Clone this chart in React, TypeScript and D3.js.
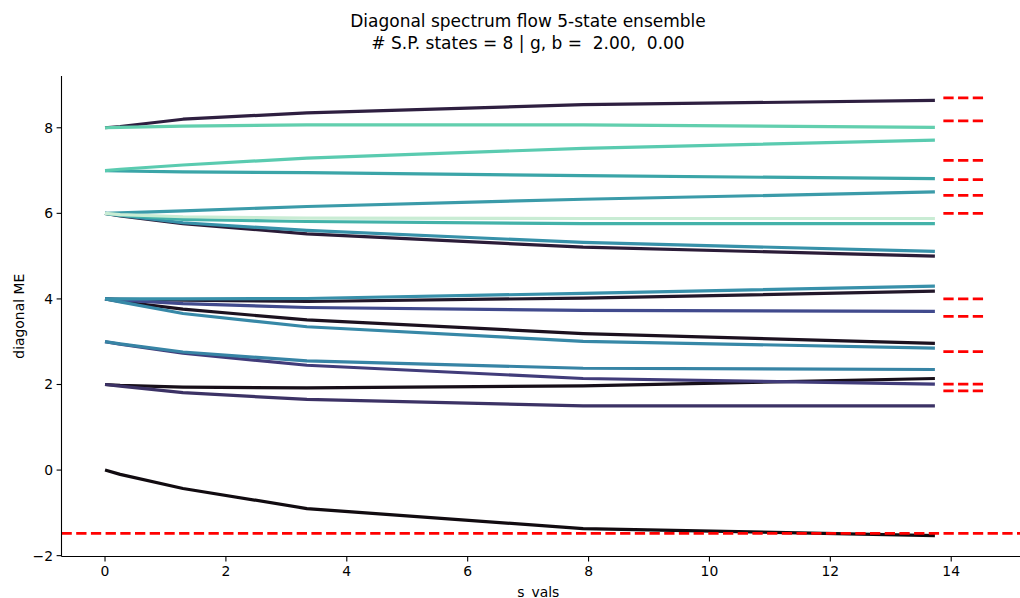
import React from "react";
import * as d3 from "d3";

// ---- data ----
const sVals = [0, 0.25, 1.29, 3.34, 7.91, 13.73];

const lineA = [8, 8.03, 8.2, 8.35, 8.54, 8.64];
const lineB = [8, 8.01, 8.04, 8.07, 8.07, 8.01];
const lineC = [7, 7.03, 7.13, 7.29, 7.52, 7.71];
const lineD = [7, 6.99, 6.97, 6.95, 6.88, 6.81];
const lineE = [6, 6.01, 6.06, 6.16, 6.33, 6.5];
const lineF = [6, 5.97, 5.92, 5.89, 5.88, 5.88];
const lineG = [6, 5.96, 5.86, 5.81, 5.76, 5.76];
const lineH = [6, 5.95, 5.78, 5.6, 5.32, 5.11];
const lineI = [6, 5.94, 5.76, 5.52, 5.21, 5.0];
const lineJ = [4, 4.0, 4.0, 4.01, 4.13, 4.3];
const lineK = [4, 3.99, 3.97, 3.94, 4.02, 4.18];
const lineL = [4, 3.97, 3.89, 3.8, 3.73, 3.71];
const lineM = [4, 3.94, 3.76, 3.51, 3.19, 2.96];
const lineN = [4, 3.93, 3.66, 3.35, 3.01, 2.85];
const lineO = [3, 2.95, 2.76, 2.55, 2.38, 2.35];
const lineP = [3, 2.94, 2.73, 2.45, 2.14, 2.01];
const lineQ = [2, 1.98, 1.94, 1.92, 1.97, 2.14];
const lineR = [2, 1.96, 1.81, 1.65, 1.5, 1.5];
const lineS = [0, -0.1, -0.43, -0.9, -1.37, -1.53];

const seriesList = [lineA, lineB, lineC, lineD, lineE, lineF, lineG, lineH, lineI, lineJ, lineK, lineL, lineM, lineN, lineO, lineP, lineQ, lineR, lineS];
const seriesColors = [
  "#2e1f40", "#62cfae", "#5acbb0", "#3ba5a8", "#3b9ba9", "#c9ecd4", "#43b2a9", "#3791a9", "#2b1c38",
  "#3890aa", "#22172a", "#414a8d", "#1c111f", "#3788a7", "#3784a5", "#413c7a", "#170f19", "#3c3265", "#110b10",
];

const refLevels = [8.7, 8.16, 7.24, 6.79, 6.42, 6.0, 4.0, 3.59, 2.77, 2.01, 1.85];
const refSpan = [13.87, 14.55];
const groundLevel = -1.48;

const xTicks = [0, 2, 4, 6, 8, 10, 12, 14];
const yTicks = [-2, 0, 2, 4, 6, 8];

const titleLines = ["Diagonal spectrum flow 5-state ensemble", "# S.P. states = 8 | g, b =  2.00,  0.00"];
const xLabel = "s_vals";
const yLabel = "diagonal ME";

// ---- layout ----
const W = 1020;
const H = 598;
const left = 61.5;
const right = 1031;
const top = 76;
const bottom = 556.5;
const FONT = "DejaVu Sans, sans-serif";

export default function App() {
  const x = d3.scaleLinear().domain([-0.72, 15.32]).range([left, right]);
  const y = d3.scaleLinear().domain([-2.02, 9.21]).range([bottom, top]);

  const line = d3
    .line<[number, number]>()
    .x((d) => x(d[0]))
    .y((d) => y(d[1]));

  const order = seriesList
    .map((vals, i) => ({ vals, color: seriesColors[i] }))
    .sort((a, b) => d3.hsl(a.color).l - d3.hsl(b.color).l);

  const fmt = (v: number) => (v < 0 ? "\u2212" + Math.abs(v) : String(v));

  return (
    <svg
      width={W}
      height={H}
      style={{ position: "fixed", left: 0, top: 0, background: "#fff" }}
      fontFamily={FONT}
    >
      <rect x={0} y={0} width={W} height={H} fill="#fff" />
      {/* title */}
      {titleLines.map((t, i) => (
        <text
          key={i}
          x={528}
          y={27 + i * 22}
          textAnchor="middle"
          fontSize={17}
          fill="#000"
          style={{ whiteSpace: "pre" }}
        >
          {t}
        </text>
      ))}

      {/* data lines */}
      <g fill="none" strokeWidth={3.2} strokeLinejoin="round" strokeLinecap="butt">
        {order.map((s, i) => (
          <path key={i} d={line(sVals.map((sv, j) => [sv, s.vals[j]]) as [number, number][]) || ""} stroke={s.color} />
        ))}
      </g>

      {/* reference levels */}
      <g stroke="#ff0000" strokeWidth={2.8} strokeDasharray="10.3 4.4" fill="none">
        {refLevels.map((v, i) => (
          <line key={i} x1={x(refSpan[0])} x2={x(refSpan[1])} y1={y(v)} y2={y(v)} />
        ))}
        <line x1={left} x2={right} y1={y(groundLevel)} y2={y(groundLevel)} />
      </g>

      {/* spines */}
      <line x1={left} x2={left} y1={top} y2={bottom} stroke="#000" strokeWidth={1.1} />
      <line x1={left} x2={right} y1={bottom} y2={bottom} stroke="#000" strokeWidth={1.1} />

      {/* x ticks */}
      {xTicks.map((t) => (
        <g key={t}>
          <line x1={x(t)} x2={x(t)} y1={bottom} y2={bottom + 4.9} stroke="#000" strokeWidth={1.1} />
          <text x={x(t)} y={576} textAnchor="middle" fontSize={13.9} fill="#000">
            {fmt(t)}
          </text>
        </g>
      ))}
      {/* y ticks */}
      {yTicks.map((t) => (
        <g key={t}>
          <line x1={left - 4.9} x2={left} y1={y(t)} y2={y(t)} stroke="#000" strokeWidth={1.1} />
          <text x={left - 8.5} y={y(t) + 5} textAnchor="end" fontSize={13.9} fill="#000">
            {fmt(t)}
          </text>
        </g>
      ))}

      {/* axis labels */}
      <text x={(left + right) / 2 - 8} y={596.5} textAnchor="middle" fontSize={13.9} fill="#000">
        {xLabel}
      </text>
      <text
        transform={`translate(24, ${(top + bottom) / 2}) rotate(-90)`}
        textAnchor="middle"
        fontSize={13.9}
        fill="#000"
      >
        {yLabel}
      </text>
    </svg>
  );
}
